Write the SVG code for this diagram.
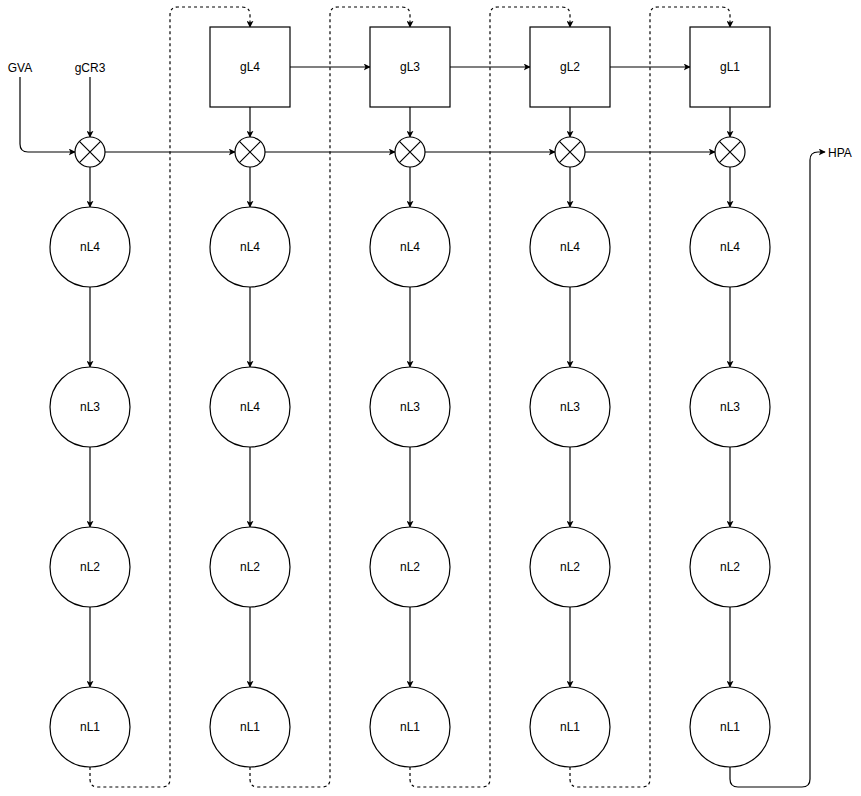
<svg xmlns="http://www.w3.org/2000/svg" width="861" height="796" viewBox="0 0 861 796">
<defs>
<marker id="arr" viewBox="0 0 10 10" refX="9" refY="5" markerWidth="7" markerHeight="7" markerUnits="userSpaceOnUse" orient="auto">
<path d="M0,0 L10,5 L0,10 L2.5,5 Z" fill="#000"/>
</marker>
<style>
.n{fill:#fff;stroke:#000;stroke-width:1.2}
.t{font-family:"Liberation Sans",Arial,sans-serif;font-size:12px;fill:#000;text-anchor:middle;dominant-baseline:central}
.e{fill:none;stroke:#000;stroke-width:1.2;marker-end:url(#arr)}
.d{fill:none;stroke:#000;stroke-width:1.2;stroke-dasharray:3 3;marker-end:url(#arr)}
.x{stroke:#000;stroke-width:1.2}
</style>
</defs>
<rect width="861" height="796" fill="#fff"/>
<g id="connectors">
<path class="e" d="M20,77 V144 Q20,152 28,152 H75"/>
<path class="e" d="M90,77 V137"/>
<path class="e" d="M105,152 H235"/>
<path class="e" d="M265,152 H395"/>
<path class="e" d="M425,152 H555"/>
<path class="e" d="M585,152 H715"/>
<path class="e" d="M290,67 H370"/>
<path class="e" d="M450,67 H530"/>
<path class="e" d="M610,67 H690"/>
<path class="e" d="M250,107 V137"/>
<path class="e" d="M410,107 V137"/>
<path class="e" d="M570,107 V137"/>
<path class="e" d="M730,107 V137"/>
<path class="e" d="M90,167 V207"/><path class="e" d="M90,287 V367"/><path class="e" d="M90,447 V527"/><path class="e" d="M90,607 V687"/>
<path class="e" d="M250,167 V207"/><path class="e" d="M250,287 V367"/><path class="e" d="M250,447 V527"/><path class="e" d="M250,607 V687"/>
<path class="e" d="M410,167 V207"/><path class="e" d="M410,287 V367"/><path class="e" d="M410,447 V527"/><path class="e" d="M410,607 V687"/>
<path class="e" d="M570,167 V207"/><path class="e" d="M570,287 V367"/><path class="e" d="M570,447 V527"/><path class="e" d="M570,607 V687"/>
<path class="e" d="M730,167 V207"/><path class="e" d="M730,287 V367"/><path class="e" d="M730,447 V527"/><path class="e" d="M730,607 V687"/>
<path class="d" d="M90,767 V779 Q90,787 98,787 H162 Q170,787 170,779 V15 Q170,7 178,7 H242 Q250,7 250,15 V27"/>
<path class="d" d="M250,767 V779 Q250,787 258,787 H322 Q330,787 330,779 V15 Q330,7 338,7 H402 Q410,7 410,15 V27"/>
<path class="d" d="M410,767 V779 Q410,787 418,787 H482 Q490,787 490,779 V15 Q490,7 498,7 H562 Q570,7 570,15 V27"/>
<path class="d" d="M570,767 V779 Q570,787 578,787 H642 Q650,787 650,779 V15 Q650,7 658,7 H722 Q730,7 730,15 V27"/>
<path class="e" d="M730,767 V779 Q730,787 738,787 H802 Q810,787 810,779 V160 Q810,152 818,152 H825"/>
</g>
<g id="GVA"><text class="t" x="20" y="68">GVA</text></g>
<g id="gCR3"><text class="t" x="90" y="68">gCR3</text></g>
<g id="HPA"><text class="t" x="840" y="153">HPA</text></g>
<g id="gL4"><rect class="n" x="210" y="27" width="80" height="80"/><text class="t" x="250" y="67">gL4</text></g>
<g id="gL3"><rect class="n" x="370" y="27" width="80" height="80"/><text class="t" x="410" y="67">gL3</text></g>
<g id="gL2"><rect class="n" x="530" y="27" width="80" height="80"/><text class="t" x="570" y="67">gL2</text></g>
<g id="gL1"><rect class="n" x="690" y="27" width="80" height="80"/><text class="t" x="730" y="67">gL1</text></g>
<g id="mix1"><circle class="n" cx="90" cy="152" r="15"/><path class="x" d="M79.4,141.4 L100.6,162.6 M100.6,141.4 L79.4,162.6"/></g>
<g id="mix2"><circle class="n" cx="250" cy="152" r="15"/><path class="x" d="M239.4,141.4 L260.6,162.6 M260.6,141.4 L239.4,162.6"/></g>
<g id="mix3"><circle class="n" cx="410" cy="152" r="15"/><path class="x" d="M399.4,141.4 L420.6,162.6 M420.6,141.4 L399.4,162.6"/></g>
<g id="mix4"><circle class="n" cx="570" cy="152" r="15"/><path class="x" d="M559.4,141.4 L580.6,162.6 M580.6,141.4 L559.4,162.6"/></g>
<g id="mix5"><circle class="n" cx="730" cy="152" r="15"/><path class="x" d="M719.4,141.4 L740.6,162.6 M740.6,141.4 L719.4,162.6"/></g>
<g id="c1r1"><circle class="n" cx="90" cy="247" r="40"/><text class="t" x="90" y="247">nL4</text></g>
<g id="c1r2"><circle class="n" cx="90" cy="407" r="40"/><text class="t" x="90" y="407">nL3</text></g>
<g id="c1r3"><circle class="n" cx="90" cy="567" r="40"/><text class="t" x="90" y="567">nL2</text></g>
<g id="c1r4"><circle class="n" cx="90" cy="727" r="40"/><text class="t" x="90" y="727">nL1</text></g>
<g id="c2r1"><circle class="n" cx="250" cy="247" r="40"/><text class="t" x="250" y="247">nL4</text></g>
<g id="c2r2"><circle class="n" cx="250" cy="407" r="40"/><text class="t" x="250" y="407">nL4</text></g>
<g id="c2r3"><circle class="n" cx="250" cy="567" r="40"/><text class="t" x="250" y="567">nL2</text></g>
<g id="c2r4"><circle class="n" cx="250" cy="727" r="40"/><text class="t" x="250" y="727">nL1</text></g>
<g id="c3r1"><circle class="n" cx="410" cy="247" r="40"/><text class="t" x="410" y="247">nL4</text></g>
<g id="c3r2"><circle class="n" cx="410" cy="407" r="40"/><text class="t" x="410" y="407">nL3</text></g>
<g id="c3r3"><circle class="n" cx="410" cy="567" r="40"/><text class="t" x="410" y="567">nL2</text></g>
<g id="c3r4"><circle class="n" cx="410" cy="727" r="40"/><text class="t" x="410" y="727">nL1</text></g>
<g id="c4r1"><circle class="n" cx="570" cy="247" r="40"/><text class="t" x="570" y="247">nL4</text></g>
<g id="c4r2"><circle class="n" cx="570" cy="407" r="40"/><text class="t" x="570" y="407">nL3</text></g>
<g id="c4r3"><circle class="n" cx="570" cy="567" r="40"/><text class="t" x="570" y="567">nL2</text></g>
<g id="c4r4"><circle class="n" cx="570" cy="727" r="40"/><text class="t" x="570" y="727">nL1</text></g>
<g id="c5r1"><circle class="n" cx="730" cy="247" r="40"/><text class="t" x="730" y="247">nL4</text></g>
<g id="c5r2"><circle class="n" cx="730" cy="407" r="40"/><text class="t" x="730" y="407">nL3</text></g>
<g id="c5r3"><circle class="n" cx="730" cy="567" r="40"/><text class="t" x="730" y="567">nL2</text></g>
<g id="c5r4"><circle class="n" cx="730" cy="727" r="40"/><text class="t" x="730" y="727">nL1</text></g>
</svg>
